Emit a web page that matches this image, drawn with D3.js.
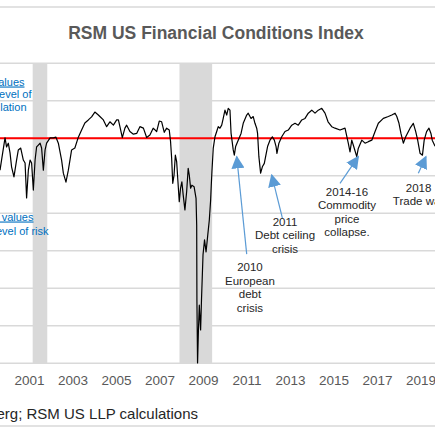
<!DOCTYPE html>
<html>
<head>
<meta charset="utf-8">
<script src="https://cdn.jsdelivr.net/npm/d3@7"></script>
<style>
  body { margin: 0; background: #fff; }
  svg { display: block; font-family: "Liberation Sans", Arial, sans-serif; }
</style>
</head>
<body>
<div id="chart"></div>
<script>
// RSM US Financial Conditions Index (weekly-ish trace)
const years = [
  1999.67, 1999.74, 1999.90, 1999.97, 2000.05, 2000.13, 2000.20, 2000.31, 2000.43, 2000.51,
  2000.62, 2000.74, 2000.82, 2000.89, 2000.97, 2001.05, 2001.12, 2001.20, 2001.28, 2001.35,
  2001.43, 2001.51, 2001.58, 2001.66, 2001.74, 2001.81, 2001.97, 2002.12, 2002.24, 2002.35,
  2002.50, 2002.58, 2002.70, 2002.81, 2002.96, 2003.11, 2003.27, 2003.42, 2003.57, 2003.73,
  2003.88, 2004.03, 2004.19, 2004.26, 2004.42, 2004.57, 2004.72, 2004.88, 2005.03, 2005.11,
  2005.18, 2005.29, 2005.41, 2005.49, 2005.64, 2005.80, 2005.95, 2006.10, 2006.26, 2006.41,
  2006.56, 2006.71, 2006.87, 2006.99, 2007.10, 2007.22, 2007.33, 2007.45, 2007.51, 2007.56,
  2007.61, 2007.67, 2007.73, 2007.79, 2007.85, 2007.91, 2007.97, 2008.03, 2008.09, 2008.17,
  2008.25, 2008.32, 2008.37, 2008.43, 2008.49, 2008.59, 2008.68, 2008.71, 2008.72, 2008.75,
  2008.79, 2008.83, 2008.86, 2008.89, 2008.93, 2009.00, 2009.07, 2009.14, 2009.21, 2009.29,
  2009.35, 2009.38, 2009.41, 2009.47, 2009.55, 2009.63, 2009.70, 2009.78, 2009.86, 2009.93,
  2010.01, 2010.09, 2010.16, 2010.24, 2010.29, 2010.39, 2010.44, 2010.50, 2010.62, 2010.75,
  2010.85, 2011.01, 2011.08, 2011.21, 2011.31, 2011.39, 2011.47, 2011.51, 2011.57, 2011.65,
  2011.73, 2011.82, 2011.88, 2011.97, 2012.08, 2012.19, 2012.28, 2012.36, 2012.40, 2012.49,
  2012.62, 2012.77, 2012.92, 2013.08, 2013.23, 2013.38, 2013.54, 2013.69, 2013.84, 2014.00,
  2014.15, 2014.30, 2014.46, 2014.61, 2014.75, 2014.92, 2015.07, 2015.30, 2015.53, 2015.68,
  2015.76, 2015.84, 2015.91, 2016.07, 2016.14, 2016.30, 2016.45, 2016.60, 2016.76, 2016.91,
  2017.06, 2017.29, 2017.52, 2017.68, 2017.83, 2017.91, 2018.01, 2018.10, 2018.21, 2018.32,
  2018.52, 2018.67, 2018.78, 2018.87, 2018.98, 2019.09, 2019.17, 2019.28, 2019.39, 2019.48,
  2019.54, 2019.67
];
const fci = [
  -0.85, -0.58, 0.01, -0.23, -0.13, -0.39, -0.76, -1.03, -0.58, -0.31,
  -0.26, -0.58, -0.66, -1.59, -0.85, -0.58, -0.66, -1.38, -0.58, -0.23,
  -0.18, -0.13, -0.26, -0.85, -0.31, -0.13, 0.01, 0.01, 0.03, -0.13,
  -0.58, -0.93, -1.17, -0.85, -0.31, -0.26, 0.03, 0.22, 0.41, 0.49,
  0.57, 0.70, 0.62, 0.58, 0.49, 0.31, 0.44, 0.35, 0.49, 0.49,
  0.31, 0.02, 0.27, 0.35, 0.18, 0.11, 0.13, 0.31, 0.27, 0.02,
  0.09, 0.27, 0.18, 0.46, 0.44, 0.16, 0.27, 0.22, -0.09, -0.53,
  -1.20, -0.98, -0.45, -0.62, -1.16, -1.69, -1.33, -1.16, -1.51, -1.91,
  -1.42, -0.80, -0.98, -1.33, -1.25, -1.29, -1.60, -2.31, -4.31, -5.99,
  -5.11, -4.45, -4.79, -5.11, -4.31, -3.11, -2.71, -3.03, -2.63, -2.18,
  -1.65, -1.25, -0.89, -0.27, 0.04, 0.18, 0.31, 0.27, 0.35, 0.53,
  0.75, 0.62, 0.80, 0.75, 0.14, -0.31, -0.45, -0.22, -0.05, 0.13,
  0.40, 0.62, 0.67, 0.53, 0.58, 0.40, 0.27, 0.13, -0.49, -0.93,
  -0.76, -0.67, -0.49, -0.22, -0.05, 0.04, -0.05, -0.22, -0.40, -0.13,
  0.04, 0.18, 0.22, 0.35, 0.40, 0.35, 0.49, 0.53, 0.67, 0.75,
  0.67, 0.75, 0.80, 0.67, 0.44, 0.31, 0.27, 0.22, 0.27, -0.13,
  -0.36, -0.05, -0.18, -0.49, -0.27, -0.05, -0.13, -0.09, -0.05, 0.18,
  0.40, 0.53, 0.58, 0.62, 0.67, 0.58, 0.40, 0.13, -0.13, 0.04,
  0.27, 0.40, 0.18, -0.05, -0.40, -0.45, -0.05, 0.18, 0.27, 0.13,
  -0.05, -0.21
];

// NBER recessions [start, end] as decimal years
const recessions = [[2001.17, 2001.84], [2007.92, 2009.42]];

const gridValues = [2, 1, 0, -1, -2, -3, -4, -5, -6];
const tickYears = [2001, 2003, 2005, 2007, 2009, 2011, 2013, 2015, 2017, 2019];

// event callouts: label lines, label anchor (year, value), arrow tail -> tip
const events = [
  { lines: ['2010', 'European', 'debt', 'crisis'], at: [2011.16, -3.55],
    from: [2011.01, -3.09], to: [2010.55, -0.49] },
  { lines: ['2011', 'Debt ceiling', 'crisis'], at: [2012.77, -2.34],
    from: [2012.65, -2.13], to: [2012.16, -0.98] },
  { lines: ['2014-16', 'Commodity', 'price', 'collapse.'], at: [2015.62, -1.54],
    from: [2015.30, -1.20], to: [2016.14, -0.49] },
  { lines: ['2018', 'Trade war'], at: [2018.91, -1.43],
    from: [2018.90, -0.93], to: [2019.25, -0.49] }
];

const sideNotes = [
  { text: 'Positive values', x: 24.5, y: 85.5, underline: true },
  { text: 'indicate higher level of', x: 31.5, y: 97.5 },
  { text: 'speculation', x: 26.5, y: 110.5 },
  { text: 'Negative values', x: 33.5, y: 220.5, underline: true },
  { text: 'indicate higher level of risk', x: 48.5, y: 234.5 }
];

const W = 435, H = 435;
const yearToDate = yr => {
  const y = Math.floor(yr);
  const start = new Date(y, 0, 1), end = new Date(y + 1, 0, 1);
  return new Date(+start + (yr - y) * (end - start));
};

const x = d3.scaleTime()
  .domain([new Date(2001, 0, 1), new Date(2019, 0, 1)])
  .range([29, 29 + 18 * 21.75]);
const y = d3.scaleLinear().domain([-6, 2]).range([363.3, 63.3]);

const svg = d3.select('#chart').append('svg')
  .attr('width', W).attr('height', H);

// outer frame lines
svg.append('g').attr('stroke', '#d9d9d9').attr('stroke-width', 1.5)
  .selectAll('line').data([7, 426]).join('line')
  .attr('x1', 0).attr('x2', W).attr('y1', d => d).attr('y2', d => d);

svg.append('text')
  .attr('x', 216).attr('y', 39)
  .attr('text-anchor', 'middle')
  .attr('font-size', 17.5).attr('font-weight', 'bold').attr('fill', '#595959')
  .text('RSM US Financial Conditions Index');

// recession shading
svg.append('g').selectAll('rect').data(recessions).join('rect')
  .attr('x', d => x(yearToDate(d[0])))
  .attr('width', d => x(yearToDate(d[1])) - x(yearToDate(d[0])))
  .attr('y', y(2)).attr('height', y(-6) - y(2))
  .attr('fill', '#d9d9d9');

// gridlines
svg.append('g').attr('stroke', '#d9d9d9').attr('stroke-width', 1.5)
  .selectAll('line').data(gridValues).join('line')
  .attr('x1', 0).attr('x2', W)
  .attr('y1', d => y(d)).attr('y2', d => y(d));

// x axis labels
const xAxis = svg.append('g')
  .attr('transform', `translate(0,${y(-6)})`)
  .call(d3.axisBottom(x)
    .tickValues(tickYears.map(t => new Date(t, 0, 1)))
    .tickFormat(d3.timeFormat('%Y'))
    .tickSize(0).tickPadding(12));
xAxis.select('.domain').remove();
xAxis.selectAll('text')
  .attr('font-family', '"Liberation Sans", Arial, sans-serif')
  .attr('font-size', 13.5).attr('fill', '#595959');

// zero line
svg.append('line')
  .attr('x1', 0).attr('x2', W).attr('y1', y(0)).attr('y2', y(0))
  .attr('stroke', '#ff0000').attr('stroke-width', 2);

// index line
const series = years.map((yr, i) => ({ date: yearToDate(yr), v: fci[i] }));
svg.append('path').datum(series)
  .attr('fill', 'none').attr('stroke', '#000').attr('stroke-width', 1.2)
  .attr('stroke-linejoin', 'round')
  .attr('d', d3.line().x(d => x(d.date)).y(d => y(d.v)));

// arrows
svg.append('defs').append('marker')
  .attr('id', 'head').attr('viewBox', '0 -5 10 10')
  .attr('refX', 9).attr('refY', 0)
  .attr('markerUnits', 'userSpaceOnUse')
  .attr('markerWidth', 13).attr('markerHeight', 13)
  .attr('orient', 'auto')
  .append('path').attr('d', 'M0,-5L10,0L0,5Z').attr('fill', '#5b9bd5');

svg.append('g').selectAll('line').data(events).join('line')
  .attr('x1', d => x(yearToDate(d.from[0]))).attr('y1', d => y(d.from[1]))
  .attr('x2', d => x(yearToDate(d.to[0]))).attr('y2', d => y(d.to[1]))
  .attr('stroke', '#5b9bd5').attr('stroke-width', 1.2)
  .attr('marker-end', 'url(#head)');

svg.append('g').selectAll('text').data(events).join('text')
  .attr('text-anchor', 'middle').attr('font-size', 11.5).attr('fill', '#262626')
  .attr('x', d => x(yearToDate(d.at[0]))).attr('y', d => y(d.at[1]))
  .each(function(d) {
    const t = d3.select(this);
    d.lines.forEach((l, i) => {
      t.append('tspan').attr('x', x(yearToDate(d.at[0])))
        .attr('dy', i === 0 ? 0 : 13.4).text(l);
    });
  });

// side notes (left margin, partly cropped)
svg.append('g').selectAll('text').data(sideNotes).join('text')
  .attr('x', d => d.x).attr('y', d => d.y)
  .attr('text-anchor', 'end').attr('font-size', 11).attr('fill', '#0070c0')
  .attr('text-decoration', d => d.underline ? 'underline' : null)
  .text(d => d.text);

// source
svg.append('text')
  .attr('x', 198).attr('y', 419)
  .attr('text-anchor', 'end').attr('font-size', 15).attr('fill', '#262626')
  .text('Source: Bloomberg; RSM US LLP calculations');
</script>
</body>
</html>
